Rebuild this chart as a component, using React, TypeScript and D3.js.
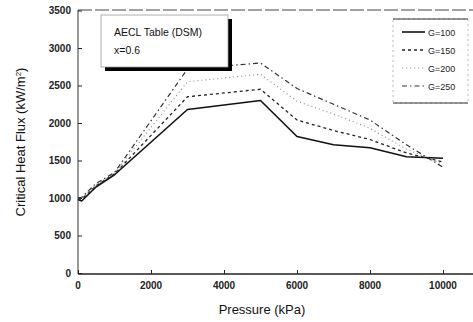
import { useEffect, useRef } from "react"
import * as d3 from "d3"

// pressure (kPa) sample points
const pressure = [0, 100, 500, 1000, 3000, 5000, 6000, 7000, 8000, 9000, 10000]

// critical heat flux (kW/m2) per mass flux
const g100 = [980, 960, 1150, 1310, 2180, 2300, 1820, 1710, 1670, 1550, 1530]
const g150 = [990, 985, 1165, 1320, 2350, 2450, 2040, 1900, 1780, 1600, 1480]
const g200 = [1000, 1000, 1180, 1330, 2550, 2650, 2290, 2120, 1930, 1650, 1450]
const g250 = [1005, 1010, 1195, 1340, 2720, 2800, 2460, 2250, 2040, 1710, 1410]

const seriesNames = ["G=100", "G=150", "G=200", "G=250"]
const xTicks = [0, 2000, 4000, 6000, 8000, 10000]
const yTicks = [0, 500, 1000, 1500, 2000, 2500, 3000, 3500]

export default function App() {
  const svgRef = useRef<SVGSVGElement | null>(null)

  useEffect(() => {
    if (!svgRef.current) return
    const svg = d3.select(svgRef.current)
    svg.selectAll("*").remove()

    const font = "Arial, 'Liberation Sans', sans-serif"
    const x = d3.scaleLinear().domain([0, 11000]).range([78, 479.5])
    const y = d3.scaleLinear().domain([0, 3500]).range([273, 10.5])

    const series = [g100, g150, g200, g250]
    const styles = [
      { dash: null, width: 1.6, color: "#111" },
      { dash: "3,3", width: 1.3, color: "#222" },
      { dash: "1,3", width: 1.1, color: "#888" },
      { dash: "5,3,1.5,3", width: 1.2, color: "#333" },
    ]

    // frame
    svg.append("line").attr("x1", 78).attr("x2", 473).attr("y1", 274).attr("y2", 274).attr("stroke", "#222").attr("stroke-width", 1.4)
    svg.append("line").attr("x1", 78).attr("x2", 78).attr("y1", 10).attr("y2", 274).attr("stroke", "#333").attr("stroke-width", 1)
    svg.append("line").attr("x1", 78).attr("x2", 473).attr("y1", 10).attr("y2", 10).attr("stroke", "#444").attr("stroke-width", 1).attr("stroke-dasharray", "14,3")

    // y ticks
    const yAxis = svg.append("g").attr("transform", "translate(78,0)")
      .call(d3.axisRight(y).tickValues(yTicks).tickSize(4).tickFormat(() => ""))
    yAxis.select(".domain").remove()
    yAxis.selectAll("line").attr("stroke", "#222")
    svg.append("g").selectAll("text").data(yTicks).enter().append("text")
      .attr("x", 71).attr("y", (d) => y(d) + 3.5).attr("text-anchor", "end")
      .attr("font-family", font).attr("font-size", 10).attr("font-weight", "bold").attr("fill", "#222")
      .text((d) => d)

    // x ticks
    const xAxis = svg.append("g").attr("transform", "translate(0,274)")
      .call(d3.axisTop(x).tickValues(xTicks).tickSize(4).tickFormat(() => ""))
    xAxis.select(".domain").remove()
    xAxis.selectAll("line").attr("stroke", "#222")
    svg.append("g").selectAll("text").data(xTicks).enter().append("text")
      .attr("x", (d) => x(d)).attr("y", 289).attr("text-anchor", "middle")
      .attr("font-family", font).attr("font-size", 10).attr("font-weight", "bold").attr("fill", "#222")
      .text((d) => d)

    // lines
    const line = d3.line<number>().x((d, i) => x(pressure[i])).y((d) => y(d))
    series.forEach((s, i) => {
      svg.append("path").datum(s).attr("d", line).attr("fill", "none")
        .attr("stroke", styles[i].color).attr("stroke-width", styles[i].width)
        .attr("stroke-dasharray", styles[i].dash).attr("stroke-linejoin", "round")
    })

    // title box with shadow
    svg.append("rect").attr("x", 105).attr("y", 19).attr("width", 127).attr("height", 52).attr("fill", "#000")
    svg.append("rect").attr("x", 101).attr("y", 15).attr("width", 127).attr("height", 52).attr("fill", "#fff")
      .attr("stroke", "#999").attr("stroke-width", 0.8)
    svg.append("text").attr("x", 114).attr("y", 36).attr("font-family", font).attr("font-size", 10.5).attr("fill", "#111").text("AECL Table (DSM)")
    svg.append("text").attr("x", 114).attr("y", 54).attr("font-family", font).attr("font-size", 10.5).attr("fill", "#111").text("x=0.6")

    // legend
    const lg = svg.append("g")
    lg.append("rect").attr("x", 393).attr("y", 19).attr("width", 75).attr("height", 84).attr("fill", "#fff")
      .attr("stroke", "#aaa").attr("stroke-width", 0.8).attr("stroke-dasharray", "2,3")
    lg.append("line").attr("x1", 393).attr("x2", 468).attr("y1", 19).attr("y2", 19).attr("stroke", "#333").attr("stroke-width", 1.2)
    lg.append("line").attr("x1", 393).attr("x2", 468).attr("y1", 103).attr("y2", 103).attr("stroke", "#333").attr("stroke-width", 1.2)
    const legendY = d3.scalePoint<string>().domain(seriesNames).range([32, 86])
    seriesNames.forEach((n, i) => {
      lg.append("line").attr("x1", 402).attr("x2", 425).attr("y1", legendY(n)!).attr("y2", legendY(n)!)
        .attr("stroke", styles[i].color).attr("stroke-width", styles[i].width).attr("stroke-dasharray", styles[i].dash)
      lg.append("text").attr("x", 428).attr("y", legendY(n)! + 3.5).attr("font-family", font).attr("font-size", 9)
        .attr("fill", "#222").text(n)
    })

    // axis titles
    svg.append("text").attr("x", 262).attr("y", 314).attr("text-anchor", "middle")
      .attr("font-family", font).attr("font-size", 13).attr("fill", "#111").text("Pressure (kPa)")
    const yt = svg.append("text").attr("transform", "translate(25,142) rotate(-90)").attr("text-anchor", "middle")
      .attr("font-family", font).attr("font-size", 13).attr("fill", "#111")
    yt.append("tspan").text("Critical Heat Flux (kW/m")
    yt.append("tspan").attr("dy", -4).attr("font-size", 8).text("2")
    yt.append("tspan").attr("dy", 4).text(")")
  }, [])

  return (
    <svg ref={svgRef} width={473} height={322}
      style={{ position: "absolute", left: 0, top: 0, background: "#fff" }} />
  )
}
